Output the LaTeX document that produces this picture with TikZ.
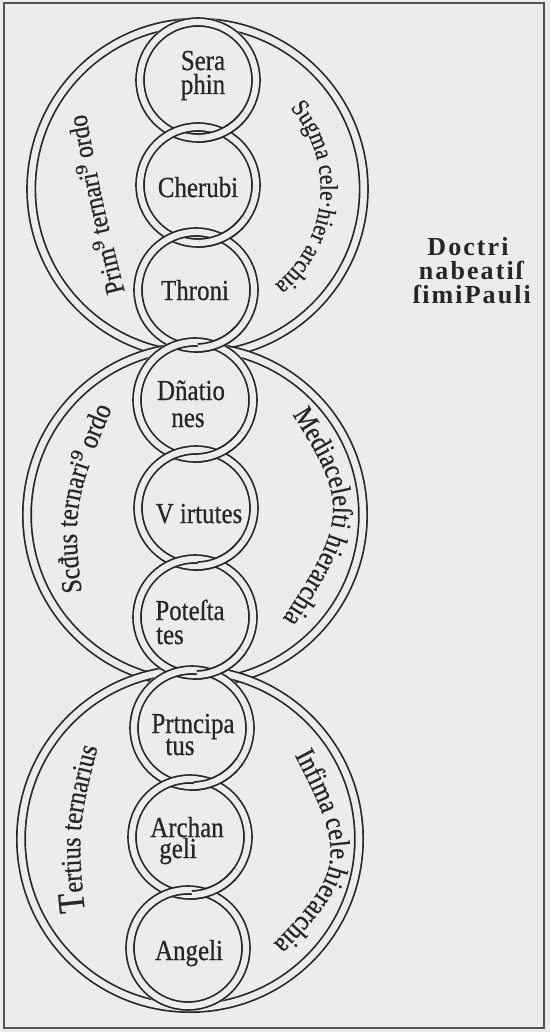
\documentclass[tikz,border=0pt]{standalone}
\usepackage{fontspec}
\setmainfont{Liberation Serif}[FakeStretch=0.86, FakeBold=0.6]
\newfontfamily\supfam{DejaVu Serif}[FakeStretch=0.86, FakeBold=0.6]
\newfontfamily\doctfam{Liberation Serif}[LetterSpace=8]
\usetikzlibrary{decorations.text}
\definecolor{paper}{RGB}{236,236,234}
\definecolor{ink}{RGB}{38,38,38}
\newcommand\arcA{\rmfamily\fontsize{27.5}{27.5}\selectfont\color{ink}}
\newcommand\arcAs{\supfam\fontsize{27.5}{27.5}\selectfont\color{ink}}
\newcommand\arcB{\rmfamily\fontsize{25}{25}\selectfont\color{ink}}
\newcommand\arcC{\rmfamily\fontsize{28.5}{28.5}\selectfont\color{ink}}
\newcommand\arcCs{\supfam\fontsize{28.5}{28.5}\selectfont\color{ink}}
\newcommand\arcT{\rmfamily\fontsize{38}{38}\selectfont\color{ink}}
\begin{document}
\begin{tikzpicture}[x=1pt,y=-1pt,
  bigband/.style={draw=ink, line width=1.7pt, double=paper, double distance=6.6pt},
  smallband/.style={draw=ink, line width=1.7pt, double=paper, double distance=6.2pt},
  inner/.style={font=\fontsize{29}{29}\selectfont, text=ink, inner sep=0pt, anchor=base},
  doct/.style={font=\doctfam\bfseries\fontsize{26}{26}\selectfont, text=ink, inner sep=0pt, anchor=base},
  curvtext/.style={decorate, decoration={text along path, text align=center}}
]
\fill[paper] (0,0) rectangle (550,1032);
\useasboundingbox (0,0) rectangle (550,1032);
\draw[ink!80, line width=1.1pt] (4,3) rectangle (544,1028);

% big circles
\coordinate (B1) at (197.5,189);
\coordinate (B2) at (195,515);
\coordinate (B3) at (190,839);
\draw[bigband] (B1) circle[radius=166.3];
\draw[bigband] (B2) circle[radius=168];
\draw[bigband] (B3) circle[radius=169];

% chain of small circles
\coordinate (c1) at (198,80);
\coordinate (c2) at (198,185);
\coordinate (c3) at (196,290);
\coordinate (c4) at (195,400);
\coordinate (c5) at (196,508);
\coordinate (c6) at (195,617);
\coordinate (c7) at (192,728);
\coordinate (c8) at (190,837);
\coordinate (c9) at (188,948);
\foreach \k in {1,...,9} \fill[paper] (c\k) circle[radius=63];
\foreach \k in {1,...,9} \draw[smallband] (c\k) circle[radius=58];
\foreach \k in {1,...,8} \draw[smallband] (c\k) ++(35:58) arc[start angle=35, end angle=88, radius=58];

% curved texts
\path[curvtext, decoration={text={|\arcA|Prim|\arcAs|⁹|\arcA| ternari|\arcAs|⁹|\arcA| ordo}}]
  (133,324) .. controls (101.8,201.8) .. (80,81);
\path[curvtext, decoration={text={|\arcB|Sugma cele·hier archia}}]
  (B1) ++(-60:123) arc[start angle=-60, end angle=70, radius=123];
\path[curvtext, decoration={text={|\arcC|Scđus ternari|\arcCs|⁹|\arcC| ordo}}]
  (86,625) .. controls (70.2,506.2) .. (125,378);
\path[curvtext, decoration={text={|\arcC|Mediaceleſti hierarchia}}]
  (272,383) .. controls (355,510.5) .. (262,650);
\path[curvtext, decoration={text={|\arcT|T|\arcC|ertius ternarius}}]
  (88,940) .. controls (75.8,830) .. (105,720);
\path[curvtext, decoration={text={|\arcC|Infima cele.hierarchia}}]
  (276,720) .. controls (353.2,864.7) .. (245,972);

% names in the small circles
\node[inner] (n1a) at (203,70) {Sera};
\node[inner] (n1b) at (203,94) {phin};
\node[inner] (n2) at (198,197) {Cherubi};
\node[inner] (n3) at (195,300) {Throni};
\node[inner] (n4a) at (191,400) {Dñatio};
\node[inner] (n4b) at (188,427) {nes};
\node[inner] (n5) at (199,523) {V irtutes};
\node[inner] (n6a) at (190,620) {Poteſta};
\node[inner] (n6b) at (170,644) {tes};
\node[inner] (n7a) at (193,733) {Prtncipa};
\node[inner] (n7b) at (180,755) {tus};
\node[inner] (n8a) at (187,837) {Archan};
\node[inner] (n8b) at (178,858) {geli};
\node[inner] (n9) at (189,960) {Angeli};

% side text
\node[doct] (d1) at (468,255) {Doctri};
\node[doct] (d2) at (471,279) {nabeatiſ};
\node[doct] (d3) at (472,303) {ſimiPauli};
\end{tikzpicture}
\end{document}
